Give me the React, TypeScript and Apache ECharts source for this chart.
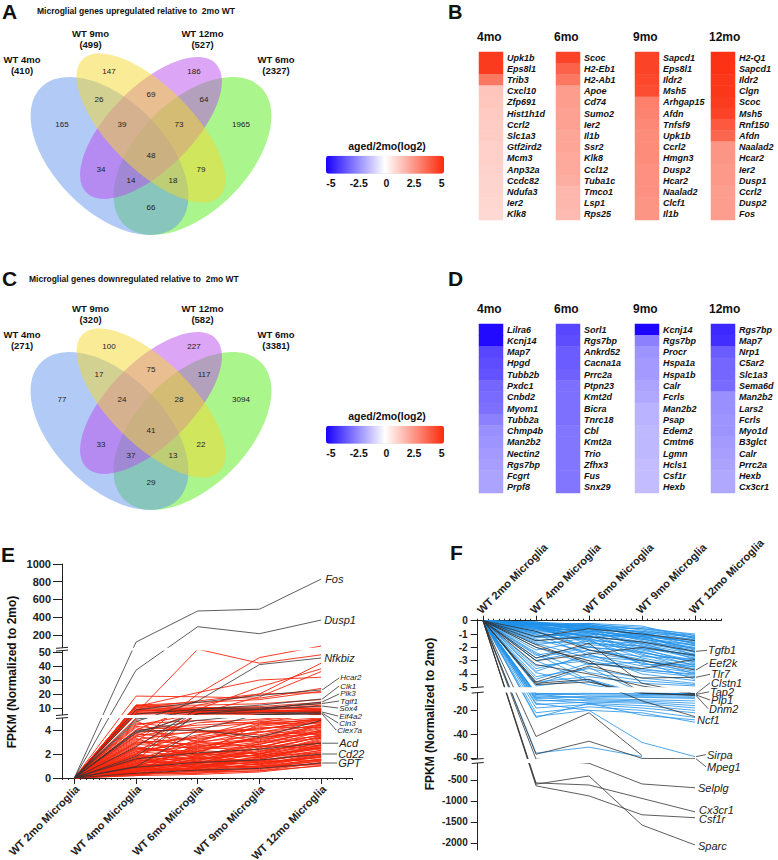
import React, { useEffect, useRef } from 'react';
import * as echarts from 'echarts';

const FONT = '"Liberation Sans", Arial, Helvetica, sans-serif';

// ======================= DATA =======================
// Panels A / C : Venn diagrams
const vennSetNames = ['WT 4mo', 'WT 9mo', 'WT 12mo', 'WT 6mo'];
const vennUpTotals = [410, 499, 527, 2327];
const vennDownTotals = [271, 320, 582, 3381];
// region order: 4 | 9 | 12 | 6 | 4&9 | 9&12 | 12&6 | 4&9&12 | 9&12&6 | all | 4&12 | 4&12&6 | 4&9&6 | 9&6 | 4&6
const vennUpCounts = [165, 147, 186, 1965, 26, 69, 64, 39, 73, 48, 34, 14, 18, 79, 66];
const vennDownCounts = [77, 100, 227, 3094, 17, 75, 117, 24, 28, 41, 33, 37, 13, 22, 29];

// Panels B / D : heatmaps (log2 aged / 2mo)
const heatCols = ['4mo', '6mo', '9mo', '12mo'];
const up4Genes = ['Upk1b', 'Eps8l1', 'Trib3', 'Cxcl10', 'Zfp691', 'Hist1h1d', 'Ccrl2', 'Slc1a3', 'Gtf2ird2', 'Mcm3', 'Anp32a', 'Ccdc82', 'Ndufa3', 'Ier2', 'Klk8'];
const up4Vals = [4.6, 4.6, 3.2, 1.35, 1.3, 1.25, 1.2, 1.2, 1.1, 1.1, 1.05, 1.0, 1.0, 0.95, 0.9];
const up6Genes = ['Scoc', 'H2-Eb1', 'H2-Ab1', 'Apoe', 'Cd74', 'Sumo2', 'Ier2', 'Il1b', 'Ssr2', 'Klk8', 'Ccl12', 'Tuba1c', 'Tmco1', 'Lsp1', 'Rps25'];
const up6Vals = [4.4, 3.7, 3.2, 2.3, 2.3, 2.2, 2.2, 2.1, 2.1, 2.0, 2.0, 1.9, 1.7, 1.7, 1.6];
const up9Genes = ['Sapcd1', 'Eps8l1', 'Ildr2', 'Msh5', 'Arhgap15', 'Afdn', 'Tnfsf9', 'Upk1b', 'Ccrl2', 'Hmgn3', 'Dusp2', 'Hcar2', 'Naalad2', 'Clcf1', 'Il1b'];
const up9Vals = [4.4, 4.4, 4.3, 4.2, 3.0, 2.9, 2.8, 2.7, 2.7, 2.7, 2.6, 2.6, 2.6, 2.5, 2.5];
const up12Genes = ['H2-Q1', 'Sapcd1', 'Ildr2', 'Clgn', 'Scoc', 'Msh5', 'Rnf150', 'Afdn', 'Naalad2', 'Hcar2', 'Ier2', 'Dusp1', 'Ccrl2', 'Dusp2', 'Fos'];
const up12Vals = [4.8, 4.8, 4.7, 4.7, 4.6, 4.4, 3.9, 3.6, 2.5, 2.5, 2.4, 2.4, 2.3, 2.3, 2.3];
const down4Genes = ['Lilra6', 'Kcnj14', 'Map7', 'Hpgd', 'Tubb2b', 'Pxdc1', 'Cnbd2', 'Myom1', 'Tubb2a', 'Chmp4b', 'Man2b2', 'Nectin2', 'Rgs7bp', 'Fcgrt', 'Prpf8'];
const down4Vals = [-4.8, -4.8, -3.6, -3.5, -3.4, -3.0, -2.9, -2.8, -2.5, -2.2, -2.1, -2.0, -1.9, -1.8, -1.8];
const down6Genes = ['Sorl1', 'Rgs7bp', 'Ankrd52', 'Cacna1a', 'Prrc2a', 'Ptpn23', 'Kmt2d', 'Bicra', 'Tnrc18', 'Cbl', 'Kmt2a', 'Trio', 'Zfhx3', 'Fus', 'Snx29'];
const down6Vals = [-3.6, -3.5, -3.2, -3.2, -3.1, -2.8, -2.8, -2.8, -2.8, -2.7, -2.7, -2.7, -2.7, -2.7, -2.7];
const down9Genes = ['Kcnj14', 'Rgs7bp', 'Procr', 'Hspa1a', 'Hspa1b', 'Calr', 'Fcrls', 'Man2b2', 'Psap', 'Edem2', 'Cmtm6', 'Lgmn', 'Hcls1', 'Csf1r', 'Hexb'];
const down9Vals = [-4.9, -2.5, -2.1, -2.0, -2.0, -1.8, -1.7, -1.5, -1.5, -1.4, -1.4, -1.4, -1.3, -1.3, -1.3];
const down12Genes = ['Rgs7bp', 'Map7', 'Nrp1', 'C5ar2', 'Slc1a3', 'Sema6d', 'Man2b2', 'Lars2', 'Fcrls', 'Myo1d', 'B3glct', 'Calr', 'Prrc2a', 'Hexb', 'Cx3cr1'];
const down12Vals = [-4.2, -4.1, -3.2, -3.0, -3.0, -2.9, -2.2, -2.2, -2.1, -2.1, -2.0, -1.9, -1.8, -1.7, -1.7];
const colorTicks = [-5, -2.5, 0, 2.5, 5];

// Panels E / F : time courses
const timeCats = ['WT 2mo Microglia', 'WT 4mo Microglia', 'WT 6mo Microglia', 'WT 9mo Microglia', 'WT 12mo Microglia'];
const eTickSegs = [[0, 2, 4], [10, 20, 30, 40, 50], [200, 400, 600, 800, 1000]];
const fTickSegs = [[0, -1, -2, -3, -4, -5], [-20, -40, -60], [-500, -1000, -1500, -2000]];

const eLabeledGenes = ['Fos', 'Dusp1', 'Nfkbiz', 'Hcar2', 'Clk1', 'Plk3', 'Tgif1', 'Sox4', 'Eif4a2', 'Cln3', 'Clex7a', 'Acd', 'Cd22', 'GPT'];
const eLabeledValues = [
  [0, 120, 470, 490, 830], [0, 37, 293, 214, 368], [0, 4.7, 15, 41, 45.7], [0, 8.6, 14, 19, 22.9],
  [0, 5.7, 9, 12, 16.4], [0, 3.75, 6, 9, 14.3], [0, 2.6, 9.5, 10, 13.2], [0, 4.9, 8, 9, 11.4],
  [0, 1.8, 6, 6.5, 7.1], [0, 0.95, 4.0, 5.5, 6.4], [0, 3.9, 4.8, 5.2, 5.7], [0, 1.6, 2.1, 2.4, 2.9],
  [0, 0.9, 1.3, 1.5, 2.0], [0, 0.4, 0.65, 0.8, 1.25],
];
const eOtherBlack = [[0, 3.9, 4.0, 3.4, 4.8]];
const eRedLines = [
  [0, 6.4, 53, 42, 48], [0, 3.0, 20, 46, 75], [0, 18.5, 18, 17, 24], [0, 12, 14, 16, 22], [0, 11, 21, 30, 32],
  [0, 2, 9, 25, 38], [0, 4, 12, 20, 42], [0, 1.5, 6, 18, 36], [0, 10, 15, 20, 21], [0, 12, 12, 13, 16],
  [0, 9, 10, 11, 14], [0, 11, 8, 9, 11], [0, 8, 9, 10, 13], [0, 7, 8, 9, 10], [0, 10, 7, 7, 9],
  [0, 6, 7, 8, 8.5], [0, 12, 9, 8, 7.5], [0, 5.5, 6.5, 7, 8], [0, 3.5, 8, 9, 6.5], [0, 9, 6, 5.5, 6],
  [0, 4.5, 4.8, 4.5, 4.9], [0, 2.0, 3.5, 4.8, 5.5], [0, 3.8, 4.2, 4.6, 4.8], [0, 1.0, 2.5, 3.8, 4.7],
  [0, 2.5, 2.0, 4.5, 4.6], [0, 3.2, 3.9, 3.6, 4.5], [0, 0.8, 1.8, 3.0, 4.4], [0, 4.2, 3.0, 3.5, 4.3],
  [0, 1.5, 3.2, 4.2, 4.2], [0, 2.8, 2.5, 2.8, 4.0], [0, 0.6, 1.2, 2.5, 3.9], [0, 3.5, 2.6, 3.2, 3.8],
  [0, 1.2, 2.2, 3.4, 3.7], [0, 2.2, 3.0, 2.6, 3.6], [0, 0.9, 1.5, 2.2, 3.5], [0, 4.8, 2.0, 2.4, 3.4],
  [0, 1.8, 1.4, 2.9, 3.3], [0, 0.5, 2.8, 2.0, 3.2], [0, 2.6, 1.9, 2.1, 3.1], [0, 1.1, 1.0, 1.8, 3.0],
  [0, 3.0, 2.4, 2.6, 2.9], [0, 0.7, 1.6, 1.5, 2.8], [0, 1.9, 1.2, 2.0, 2.7], [0, 2.4, 2.0, 1.7, 2.6],
  [0, 0.4, 0.9, 1.6, 2.5], [0, 1.4, 1.7, 1.9, 2.4], [0, 2.0, 1.5, 1.4, 2.3], [0, 0.9, 1.1, 1.3, 2.2],
  [0, 1.6, 2.2, 1.8, 2.1], [0, 0.6, 0.7, 1.2, 2.0], [0, 1.3, 1.3, 1.5, 1.95], [0, 2.2, 1.8, 1.2, 1.9],
  [0, 0.3, 0.6, 1.0, 1.8], [0, 1.0, 1.4, 1.1, 1.75], [0, 1.7, 1.0, 1.3, 1.7], [0, 0.5, 0.8, 0.9, 1.6],
  [0, 1.2, 0.9, 1.0, 1.55], [0, 0.8, 1.2, 1.4, 1.5], [0, 0.4, 0.5, 0.8, 1.45], [0, 1.5, 1.1, 0.9, 1.4],
  [0, 0.7, 0.6, 0.7, 1.3], [0, 0.3, 0.4, 0.6, 1.25], [0, 1.0, 0.7, 0.8, 1.2], [0, 0.6, 0.9, 1.0, 1.1],
  [0, 0.2, 0.3, 0.5, 1.05], [0, 0.9, 0.5, 0.6, 1.0], [0, 3.6, 3.8, 4.0, 4.9], [0, 4.0, 4.4, 4.7, 5.0],
  [0, 2.9, 3.4, 4.1, 4.6], [0, 1.3, 2.6, 3.3, 4.1], [0, 2.3, 2.9, 3.9, 3.6], [0, 3.3, 1.6, 2.3, 2.75],
  [0, 4.6, 4.0, 3.0, 3.5], [0, 1.6, 0.8, 1.7, 2.6], [0, 0.5, 1.9, 2.7, 2.45], [0, 5.0, 6.0, 5.5, 7.0],
  [0, 7.5, 9.5, 9.0, 12], [0, 11.5, 10.5, 10, 9.5], [0, 2.7, 5.5, 6.5, 8.2], [0, 4.4, 5.8, 6.8, 7.8],
  [0, 0.3, 1.2, 2.0, 3.3], [0, 1.1, 1.9, 2.8, 4.0], [0, 2.1, 2.7, 3.1, 4.5], [0, 0.6, 1.0, 1.6, 2.3],
  [0, 1.7, 2.3, 2.0, 2.9], [0, 0.8, 0.6, 1.2, 1.8], [0, 2.9, 3.3, 3.8, 4.4], [0, 3.7, 3.1, 4.3, 4.8],
  [0, 0.2, 0.8, 1.4, 2.1], [0, 1.4, 2.0, 2.4, 3.4], [0, 0.5, 1.3, 2.2, 3.0], [0, 2.5, 2.2, 3.5, 3.9],
  [0, 1.9, 1.6, 1.9, 2.5], [0, 0.4, 0.4, 0.9, 1.5], [0, 3.1, 2.8, 3.3, 4.2], [0, 1.0, 1.7, 2.6, 3.6],
  [0, 0.7, 1.4, 1.1, 1.9], [0, 2.4, 3.6, 4.4, 4.95], [0, 1.5, 2.4, 3.0, 3.8], [0, 0.3, 0.9, 1.8, 2.7],
  [0, 4.3, 3.9, 4.1, 4.7], [0, 6.5, 7.5, 8, 9], [0, 3.4, 4.6, 4.9, 5.8], [0, 8.5, 8, 7.5, 8.8],
  [0, 1.2, 3.0, 4.6, 6.2],
];

const fLabeledGenes = ['Tgfb1', 'Eef2k', 'Tlr7', 'Clstn1', 'Tap2', 'Plp1', 'Dnm2', 'Ncf1', 'Sirpa', 'Mpeg1', 'Selplg', 'Cx3cr1', 'Csf1r', 'Sparc'];
const fLabeledValues = [
  [0, -1.5, -1.2, -1.6, -2.3], [0, -0.8, -2.2, -3.0, -3.7], [0, -4.6, -3.4, -4.3, -4.25], [0, -2.8, -1.7, -4.7, -6.0],
  [0, -3.3, -4.0, -4.9, -6.5], [0, -4.8, -4.6, -5.5, -7], [0, -2.0, -3.0, -5.2, -7.5], [0, -4.7, -4.4, -12, -25.3],
  [0, -25, -20, -47, -59], [0, -57, -46, -60.5, -60.8], [0, -62, -102, -595, -685], [0, -570, -620, -940, -1260],
  [0, -640, -880, -1330, -1400], [0, -600, -405, -1575, -2050],
];
const fBlueLabeled = ['Sirpa'];
const fOtherBlack = [[0, -42, -22, -58, null], [0, -1.2, -0.6, -1.0, -1.5], [0, -3.0, -2.5, -2.0, -2.6], [0, -1.8, -3.2, -3.6, -2.9]];
const fBlueLines = [
  [0, -0.2, -0.4, -0.6, -1.0], [0, -0.3, -0.5, -0.8, -1.1], [0, -0.1, -0.3, -0.9, -1.2], [0, -0.4, -0.2, -0.7, -1.3],
  [0, -0.2, -0.6, -1.0, -1.4], [0, -0.5, -0.8, -1.1, -1.5], [0, -0.3, -0.4, -1.2, -1.6], [0, -0.6, -0.3, -0.9, -1.7],
  [0, -0.2, -0.7, -1.3, -1.8], [0, -0.8, -0.5, -1.0, -1.9], [0, -0.4, -0.9, -1.4, -2.0], [0, -0.3, -1.0, -1.2, -2.1],
  [0, -1.0, -0.6, -1.5, -2.2], [0, -0.5, -1.2, -1.6, -2.3], [0, -0.7, -0.4, -1.1, -2.4], [0, -0.2, -0.8, -1.8, -2.5],
  [0, -1.2, -1.0, -1.3, -2.6], [0, -0.9, -1.4, -1.9, -2.7], [0, -0.4, -0.6, -2.0, -2.8], [0, -1.5, -1.1, -1.7, -2.9],
  [0, -0.6, -1.6, -2.2, -3.0], [0, -1.1, -0.9, -2.4, -3.1], [0, -0.3, -1.8, -2.1, -3.2], [0, -1.8, -1.3, -2.6, -3.3],
  [0, -0.8, -2.0, -2.3, -3.4], [0, -2.2, -1.5, -2.8, -3.5], [0, -1.4, -2.4, -3.0, -3.6], [0, -0.5, -1.1, -2.5, -3.7],
  [0, -2.6, -1.9, -3.2, -3.8], [0, -1.0, -2.6, -3.4, -3.9], [0, -3.0, -2.2, -2.9, -4.0], [0, -1.7, -2.8, -3.6, -4.1],
  [0, -3.4, -3.0, -3.8, -4.2], [0, -2.0, -3.3, -3.1, -4.4], [0, -3.8, -2.5, -4.0, -4.5], [0, -4.2, -3.6, -4.3, -4.7],
  [0, -2.4, -3.9, -4.5, -4.8], [0, -4.6, -4.2, -4.7, -4.9], [0, -0.2, -0.3, -0.5, -1.1], [0, -0.1, -0.5, -0.6, -1.25],
  [0, -0.3, -0.2, -0.4, -1.35], [0, -0.6, -0.7, -0.8, -1.45], [0, -0.2, -0.4, -1.1, -1.65], [0, -0.4, -1.3, -0.9, -1.75],
  [0, -0.9, -0.5, -1.4, -1.85], [0, -0.1, -0.9, -1.6, -2.05], [0, -1.3, -0.8, -1.2, -2.15], [0, -0.5, -1.5, -1.7, -2.35],
  [0, -0.7, -1.2, -2.1, -2.55], [0, -1.6, -1.7, -1.9, -2.65], [0, -0.3, -2.2, -2.7, -2.85], [0, -2.8, -2.0, -2.4, -3.05],
  [0, -1.2, -1.4, -3.3, -3.25], [0, -3.6, -2.7, -3.0, -3.45], [0, -4.4, -3.2, -3.7, -4.0],
  [0, -6, -5.5, -6, -6.5], [0, -7, -6, -6.5, -7], [0, -5.5, -7, -7.5, -8], [0, -8, -9, -8.5, -9],
  [0, -10, -8, -9, -10], [0, -6.5, -10, -11, -12], [0, -12, -11, -12, -14], [0, -9, -12, -13, -16],
  [0, -15, -13, -14, -18], [0, -11, -14, -16, -20], [0, -18, -15, -18, -22], [0, -22, -17, -20, -26],
  [0, -26, -14, -24, -28], [0, -14, -20, -22, -30], [0, -56, -51, -59, null], [0, -4.8, -3.5, -5.5, -6.2],
  [0, -3.9, -4.8, -5.2, -5.8], [0, -2.5, -4.5, -6, -5.6], [0, -4.9, -4.4, -5.8, -6.8], [0, -3.0, -4.6, -5.9, -6.0],
];

// ======================= LAYOUT / STYLE =======================
const VENN_DY = [0, 275];
const vennEllipses = [
  { cx: 109.5, cy: 156, rx: 96.9, ry: 55.4, rot: -Math.PI / 4, fill: 'rgba(100,149,237,0.5)' },
  { cx: 151, cy: 128, rx: 96.9, ry: 41.5, rot: -Math.PI / 4, fill: 'rgba(245,215,45,0.5)' },
  { cx: 151, cy: 128, rx: 91.3, ry: 41.5, rot: Math.PI / 4, fill: 'rgba(185,75,235,0.5)' },
  { cx: 192.5, cy: 156, rx: 96.9, ry: 55.4, rot: Math.PI / 4, fill: 'rgba(85,235,25,0.5)' },
];
const vennDrawOrder = [3, 0, 2, 1];
const vennRegionPos = [[62, 124], [109, 71], [194, 71], [241, 124], [99, 99], [151, 94], [204, 99], [122, 124], [179, 124], [151, 155], [101, 169], [131, 180], [173, 180], [201, 169], [151, 207]];
const vennSetPos = [[22, 65], [90.5, 39], [202.5, 39], [276, 65]];
const HEAT_LEFT = [479, 556, 635, 711];
const HEAT_W = 24;
const HEAT_TOP = [52, 324];
const HEAT_H = [168, 169];
const HEAD_Y = [37, 309];
const CBAR_DY = [0, 270];
const heatColors = ['#1800ff', '#ffffff', '#fb2a0a'];
const RED = '#f5260c';
const BLUE = '#2090e8';
const BLACK = '#222222';
const LINE_BLACK = '#333333';

// broken-axis scales (value -> axis units)
type Seg = { v0: number; v1: number; t0: number; t1: number };
const eSegs: Seg[] = [{ v0: 0, v1: 5, t0: 0, t1: 60 }, { v0: 5, v1: 51, t0: 63, t1: 127.4 }, { v0: 55, v1: 1000, t0: 130.2, t1: 214 }];
const fSegs: Seg[] = [{ v0: 0, v1: -5, t0: 0, t1: -66.6 }, { v0: -5, v1: -61, t0: -71.9, t1: -138.3 }, { v0: -95, v1: -2170, t0: -142.3, t1: -229.3 }];
const lin = (s: Seg, v: number) => s.t0 + ((v - s.v0) * (s.t1 - s.t0)) / (s.v1 - s.v0);
function makeScale(segs: Seg[]) {
  return (v: number) => {
    for (const s of segs) if ((v - s.v0) * (v - s.v1) <= 0) return lin(s, v);
    for (let i = 0; i < segs.length - 1; i++) {
      const a = segs[i], b = segs[i + 1];
      if ((v - a.v1) * (v - b.v0) <= 0) return a.t1 + ((v - a.v1) * (b.t0 - a.t1)) / (b.v0 - a.v1);
    }
    return lin(segs[segs.length - 1], v);
  };
}
const TE = makeScale(eSegs);
const TF = makeScale(fSegs);
const tickT = (segs: Seg[], ticks: number[][]) => segs.flatMap((s, i) => ticks[i].map((v) => lin(s, v)));
const tickV = (ticks: number[][]) => ticks.flat();
const eTickT = tickT(eSegs, eTickSegs);
const fTickT = tickT(fSegs, fTickSegs);
const fmtTick = (ts: number[], vs: number[]) => (val: number) => {
  const i = ts.findIndex((t) => Math.abs(t - val) < 0.01);
  return i >= 0 ? String(vs[i]) : '';
};

// label layouts [dx, dy, fontSize]
const eLabelLayout = [[4, 0, 11], [3, 0, 11], [3, 0, 11], [19, -12, 8], [19, -13, 8], [19, -8, 8], [19, -2.5, 8], [18, 2, 8], [18, 4, 8], [18, 10, 8], [16, 16, 8], [18, 0, 11], [17, 0, 11], [17, 0, 11]];
const fLabelLayout = [[13, -1, 11], [14, -7, 11], [16, -3, 11], [16, -11, 11], [15, -2.5, 11], [16, 5, 11], [14, 13, 11], [2, 3, 11], [12, -2, 11], [12, 8, 11], [3, 0, 11], [4, -2, 11], [4, 1, 11], [3, 1, 11]];

// axis indices
const E_GRID = 8, F_GRID = 9;
const E_X = 8, F_X = 10, E_Y = 8, F_Y = 9;
const E_XMIN = -0.2, E_XMAX = 4.5, F_XMIN = -0.1, F_XMAX = 4.5;

function lineSeries(vals: (number | null)[], xi: number, yi: number, T: (v: number) => number, color: string, width: number, z: number) {
  return {
    type: 'line', xAxisIndex: xi, yAxisIndex: yi, silent: true, showSymbol: false, symbol: 'none', clip: true, z,
    lineStyle: { color, width }, itemStyle: { color }, emphasis: { disabled: true },
    data: vals.map((v, i) => (v == null ? null : [i, T(v)])).filter((d) => d !== null),
  };
}

function buildOption() {
  const grids: any[] = [];
  const xAxes: any[] = [];
  const yAxes: any[] = [];
  const series: any[] = [];
  const panels = [
    [[up4Genes, up4Vals], [up6Genes, up6Vals], [up9Genes, up9Vals], [up12Genes, up12Vals]],
    [[down4Genes, down4Vals], [down6Genes, down6Vals], [down9Genes, down9Vals], [down12Genes, down12Vals]],
  ];
  panels.forEach((panel, p) => {
    panel.forEach(([genes, vals]: any, c) => {
      const gi = grids.length;
      grids.push({ left: HEAT_LEFT[c], top: HEAT_TOP[p], width: HEAT_W, height: HEAT_H[p], outerBoundsMode: 'none' });
      xAxes.push({ type: 'category', gridIndex: gi, data: [heatCols[c]], show: false });
      yAxes.push({
        type: 'category', gridIndex: gi, data: genes, inverse: true, position: 'right',
        axisLine: { show: false }, axisTick: { show: false }, splitLine: { show: false },
        axisLabel: { interval: 0, margin: 4, fontSize: 9, fontWeight: 'bold', fontStyle: 'italic', color: '#111', fontFamily: FONT },
      });
      series.push({ type: 'heatmap', xAxisIndex: gi, yAxisIndex: gi, silent: true, data: vals.map((v: number, i: number) => [0, i, v]) });
    });
  });

  const axisCommon = { splitLine: { show: false } };
  // E grid
  grids.push({ left: 62, top: 564, width: 290, height: 214, outerBoundsMode: 'none' });
  xAxes.push({
    ...axisCommon, type: 'value', gridIndex: E_GRID, min: E_XMIN, max: E_XMAX, interval: 0.1, position: 'bottom',
    axisLine: { show: true, onZero: false, lineStyle: { color: BLACK, width: 1 } },
    axisTick: { show: true, length: 2, lineStyle: { color: BLACK, width: 1 } },
    axisLabel: { show: false },
  });
  xAxes.push({
    ...axisCommon, type: 'value', gridIndex: E_GRID, min: E_XMIN, max: E_XMAX, position: 'bottom',
    axisLine: { show: false }, axisLabel: { show: false },
    axisTick: { show: true, customValues: [0, 1, 2, 3, 4], length: 6, lineStyle: { color: BLACK, width: 1 } },
  });
  // F grid
  grids.push({ left: 477.7, top: 620.7, width: 243.8, height: 229.3, outerBoundsMode: 'none' });
  xAxes.push({
    ...axisCommon, type: 'value', gridIndex: F_GRID, min: F_XMIN, max: F_XMAX, interval: 0.1, position: 'top',
    axisLine: { show: true, onZero: false, lineStyle: { color: BLACK, width: 1 } },
    axisTick: { show: true, length: 2, lineStyle: { color: BLACK, width: 1 } },
    axisLabel: { show: false },
  });
  xAxes.push({
    ...axisCommon, type: 'value', gridIndex: F_GRID, min: F_XMIN, max: F_XMAX, position: 'top',
    axisLine: { show: false }, axisLabel: { show: false },
    axisTick: { show: true, customValues: [0, 1, 2, 3, 4], length: 5, lineStyle: { color: BLACK, width: 1 } },
  });
  yAxes.push({
    ...axisCommon, type: 'value', gridIndex: E_GRID, min: 0, max: 214, position: 'left',
    axisLine: { show: true, onZero: false, lineStyle: { color: BLACK, width: 1 } },
    axisTick: { show: true, customValues: eTickT, length: 9, lineStyle: { color: BLACK, width: 1 } },
    axisLabel: { customValues: eTickT, formatter: fmtTick(eTickT, tickV(eTickSegs)), margin: 11, fontSize: 11, fontWeight: 'bold', color: BLACK, fontFamily: FONT },
  });
  yAxes.push({
    ...axisCommon, type: 'value', gridIndex: F_GRID, min: -229.3, max: 0, position: 'left',
    axisLine: { show: true, onZero: false, lineStyle: { color: BLACK, width: 1 } },
    axisTick: { show: true, customValues: fTickT, length: 7, lineStyle: { color: BLACK, width: 1 } },
    axisLabel: { customValues: fTickT, formatter: fmtTick(fTickT, tickV(fTickSegs)), margin: 10, fontSize: 10, fontWeight: 'bold', color: BLACK, fontFamily: FONT },
  });

  eRedLines.forEach((l) => series.push(lineSeries(l, E_X, E_Y, TE, RED, 0.9, 2)));
  eOtherBlack.forEach((l) => series.push(lineSeries(l, E_X, E_Y, TE, LINE_BLACK, 0.8, 3)));
  eLabeledValues.forEach((l) => series.push(lineSeries(l, E_X, E_Y, TE, LINE_BLACK, 0.8, 3)));
  fBlueLines.forEach((l) => series.push(lineSeries(l, F_X, F_Y, TF, BLUE, 0.8, 2)));
  fOtherBlack.forEach((l) => series.push(lineSeries(l, F_X, F_Y, TF, LINE_BLACK, 0.8, 3)));
  fLabeledValues.forEach((l, i) => series.push(lineSeries(l, F_X, F_Y, TF, fBlueLabeled.includes(fLabeledGenes[i]) ? BLUE : LINE_BLACK, 0.8, 3)));

  const vm = (p: number) => ({
    type: 'continuous', min: -5, max: 5, seriesIndex: [0, 1, 2, 3].map((i) => i + p * 4), orient: 'horizontal',
    left: 326, top: 155.7 + CBAR_DY[p], itemWidth: 18, itemHeight: 118, calculable: false, hoverLink: false,
    padding: 0, inRange: { color: heatColors }, textStyle: { color: 'transparent' },
  });

  return {
    animation: false,
    backgroundColor: '#ffffff',
    textStyle: { fontFamily: FONT },
    grid: grids,
    xAxis: xAxes,
    yAxis: yAxes,
    visualMap: [vm(0), vm(1)],
    series,
  };
}

function txt(x: number, y: number, text: string, o: any = {}) {
  return {
    type: 'text', x, y, silent: true, z: o.z ?? 110, rotation: o.rot ?? 0,
    style: {
      text, fill: o.fill ?? '#111', fontSize: o.size ?? 10, fontWeight: o.bold ? 'bold' : 'normal',
      fontStyle: o.italic ? 'italic' : 'normal', fontFamily: FONT, textAlign: o.align ?? 'left',
      textVerticalAlign: 'middle', lineHeight: o.lh,
    },
  };
}

function buildGraphics(chart: any) {
  const els: any[] = [];
  // panel letters
  els.push(txt(2, 11, 'A', { size: 21, bold: true }));
  els.push(txt(448, 12, 'B', { size: 20, bold: true }));
  els.push(txt(2, 278, 'C', { size: 21, bold: true }));
  els.push(txt(448, 278, 'D', { size: 21, bold: true }));
  els.push(txt(1, 554, 'E', { size: 21, bold: true }));
  els.push(txt(450, 552, 'F', { size: 21, bold: true }));
  els.push(txt(37, 10.5, 'Microglial genes upregulated relative to  2mo WT', { size: 8.5, bold: true }));
  els.push(txt(29, 278.5, 'Microglial genes downregulated relative to  2mo WT', { size: 8.5, bold: true }));

  // venns
  [vennUpTotals, vennDownTotals].forEach((totals, p) => {
    const dy = VENN_DY[p];
    const counts = p === 0 ? vennUpCounts : vennDownCounts;
    vennDrawOrder.forEach((k) => {
      const e = vennEllipses[k];
      els.push({ type: 'ellipse', x: e.cx, y: e.cy + dy, rotation: e.rot, silent: true, z: 1, shape: { cx: 0, cy: 0, rx: e.rx, ry: e.ry }, style: { fill: e.fill } });
    });
    counts.forEach((c, i) => els.push(txt(vennRegionPos[i][0], vennRegionPos[i][1] + dy, String(c), { size: 8, align: 'center', fill: '#222', z: 5 })));
    vennSetNames.forEach((n, i) => els.push(txt(vennSetPos[i][0], vennSetPos[i][1] + dy, `${n}\n(${totals[i]})`, { size: 9.5, bold: true, align: 'center', lh: 11.5 })));
  });

  // colour bars
  CBAR_DY.forEach((dy) => {
    els.push(txt(387, 146 + dy, 'aged/2mo(log2)', { size: 10.5, bold: true, align: 'center' }));
    colorTicks.forEach((v) => els.push(txt(331 + ((v + 5) / 10) * 110.7, 183 + dy, String(v), { size: 10.5, bold: true, align: 'center' })));
  });
  // heat headers
  HEAD_Y.forEach((y) => heatCols.forEach((c, i) => els.push(txt(HEAT_LEFT[i] - 2, y, c, { size: 12, bold: true }))));

  // y titles
  els.push(txt(12, 672, 'FPKM (Normalized to 2mo)', { size: 12, bold: true, align: 'center', rot: Math.PI / 2 }));
  els.push(txt(430, 714, 'FPKM (Normalized to 2mo)', { size: 12, bold: true, align: 'center', rot: Math.PI / 2 }));

  // rotated time-point labels (E bottom, F top)
  timeCats.forEach((c, i) => {
    const [ex, ey] = chart.convertToPixel({ xAxisIndex: E_X, yAxisIndex: E_Y }, [i, 0]);
    els.push(txt(ex + 3, ey + 9, c, { size: 11, bold: true, align: 'right', rot: Math.PI / 4, fill: BLACK }));
    const [fx, fy] = chart.convertToPixel({ xAxisIndex: F_X, yAxisIndex: F_Y }, [i, 0]);
    els.push(txt(fx - 4, fy - 9, c, { size: 11, bold: true, align: 'left', rot: Math.PI / 4, fill: BLACK }));
  });

  // breaks
  const bands = (xi: number, yi: number, xmin: number, xmax: number, segs: Seg[]) => {
    for (let i = 0; i < segs.length - 1; i++) {
      const [xL, y1] = chart.convertToPixel({ xAxisIndex: xi, yAxisIndex: yi }, [xmin, segs[i].t1]);
      const [xR, y2] = chart.convertToPixel({ xAxisIndex: xi, yAxisIndex: yi }, [xmax, segs[i + 1].t0]);
      const top = Math.min(y1, y2);
      const h = Math.abs(y2 - y1);
      els.push({ type: 'rect', z: 100, silent: true, shape: { x: xL - 3, y: top, width: xR - xL + 6, height: h }, style: { fill: '#ffffff' } });
      els.push({ type: 'line', z: 101, silent: true, shape: { x1: xL - 6, y1: y1 + 0.5, x2: xL + 6, y2: y1 - 0.5 }, style: { stroke: BLACK, lineWidth: 1 } });
      els.push({ type: 'line', z: 101, silent: true, shape: { x1: xL - 6, y1: y2 + 0.5, x2: xL + 6, y2: y2 - 0.5 }, style: { stroke: BLACK, lineWidth: 1 } });
    }
  };
  bands(E_X, E_Y, E_XMIN, E_XMAX, eSegs);
  bands(F_X, F_Y, F_XMIN, F_XMAX, fSegs);

  // gene labels
  const labels = (xi: number, yi: number, names: string[], values: (number | null)[][], T: (v: number) => number, layout: number[][]) => {
    names.forEach((n, i) => {
      const vals = values[i];
      const last = vals[4] as number;
      const [px, py] = chart.convertToPixel({ xAxisIndex: xi, yAxisIndex: yi }, [4, T(last)]);
      const [dx, dy, size] = layout[i];
      if (dx > 6) els.push({ type: 'line', z: 111, silent: true, shape: { x1: px + 1, y1: py, x2: px + dx - 1, y2: py + dy }, style: { stroke: '#333', lineWidth: 0.8 } });
      els.push(txt(px + dx, py + dy, n, { size, italic: true, fill: '#222', z: 112 }));
    });
  };
  labels(E_X, E_Y, eLabeledGenes, eLabeledValues, TE, eLabelLayout);
  labels(F_X, F_Y, fLabeledGenes, fLabeledValues, TF, fLabelLayout);
  return els;
}

export default function App() {
  const ref = useRef<HTMLDivElement>(null);
  useEffect(() => {
    const el = ref.current;
    if (!el) return;
    const chart = echarts.init(el, null, { renderer: 'svg' });
    chart.setOption(buildOption() as any);
    chart.setOption({ graphic: buildGraphics(chart) } as any);
    return () => chart.dispose();
  }, []);
  return <div ref={ref} style={{ position: 'absolute', left: 0, top: 0, width: 778, height: 860, background: '#fff' }} />;
}
